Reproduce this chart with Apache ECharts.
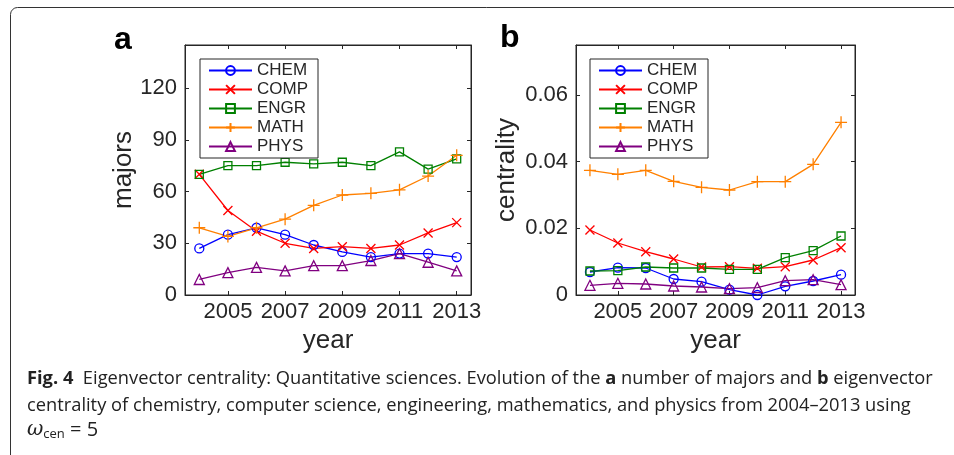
<!DOCTYPE html>
<html>
<head>
<meta charset="utf-8">
<script src="https://cdn.jsdelivr.net/npm/echarts@6/dist/echarts.min.js"></script>
<style>
  html, body { margin: 0; padding: 0; background: #fff; }
  #chart { width: 954px; height: 455px; }
</style>
</head>
<body>
<div id="chart"></div>
<script>
// years shown on the x axis
const years = [2004, 2005, 2006, 2007, 2008, 2009, 2010, 2011, 2012, 2013];
const yearTicks = [2005, 2007, 2009, 2011, 2013];
const fields = ['CHEM', 'COMP', 'ENGR', 'MATH', 'PHYS'];

// panel a: number of majors
const majorsChem = [27, 35, 39, 35, 29, 25, 22, 24, 24, 22];
const majorsComp = [70, 49, 37, 30, 27, 28, 27, 29, 36, 42];
const majorsEngr = [70, 75, 75, 77, 76, 77, 75, 83, 73, 79];
const majorsMath = [39, 34, 39, 44, 52, 58, 59, 61, 69, 81];
const majorsPhys = [9, 13, 16, 14, 17, 17, 20, 24, 19, 14];

// panel b: eigenvector centrality
const centChem = [0.0069, 0.0082, 0.0081, 0.0048, 0.0040, 0.0016, 0.0000, 0.0026, 0.0042, 0.0061];
const centComp = [0.0195, 0.0156, 0.0130, 0.0108, 0.0084, 0.0085, 0.0080, 0.0085, 0.0105, 0.0142];
const centEngr = [0.0072, 0.0073, 0.0084, 0.0081, 0.0081, 0.0077, 0.0077, 0.0112, 0.0133, 0.0177];
const centMath = [0.0374, 0.0362, 0.0374, 0.0341, 0.0323, 0.0315, 0.0340, 0.0340, 0.0392, 0.0518];
const centPhys = [0.0029, 0.0035, 0.0033, 0.0027, 0.0024, 0.0019, 0.0022, 0.0043, 0.0046, 0.0031];

const majorsData = [majorsChem, majorsComp, majorsEngr, majorsMath, majorsPhys];
const centData = [centChem, centComp, centEngr, centMath, centPhys];

const colors = ['#0000ff', '#ff0000', '#008000', '#ff8000', '#800080'];
const symbols = [
  'circle',
  'path://M0,0L10,10M10,0L0,10',
  'rect',
  'path://M5,0L5,10M0,5L10,5',
  'triangle'
];
const symbolSizes = [9, 9, 8, 12, 10];

const FONT = "'Liberation Sans', Arial, Helvetica, sans-serif";
const AXIS_COLOR = '#262626';

const chart = echarts.init(document.getElementById('chart'));

function xAxes(gridIndex) {
  const base = {
    type: 'value',
    gridIndex,
    min: 2003.5,
    max: 2013.5,
    splitLine: { show: false },
    axisLine: { show: true, onZero: false, lineStyle: { color: AXIS_COLOR, width: 1 } },
    axisTick: { show: true, inside: true, length: 4, customValues: yearTicks, lineStyle: { color: AXIS_COLOR } }
  };
  return [
    Object.assign({}, base, {
      position: 'bottom',
      name: 'year',
      nameLocation: 'middle',
      nameGap: 33,
      nameTextStyle: { fontSize: 26, fontFamily: FONT, color: AXIS_COLOR },
      axisLabel: {
        customValues: yearTicks, fontSize: 22, fontFamily: FONT, color: AXIS_COLOR, margin: 6,
        formatter: (v) => String(v)
      }
    }),
    Object.assign({}, base, { position: 'top', axisLabel: { show: false } })
  ];
}

function yAxes(gridIndex, max, interval, name, nameGap, fmt) {
  const base = {
    type: 'value',
    gridIndex,
    min: 0,
    max,
    interval,
    splitLine: { show: false },
    axisLine: { show: true, onZero: false, lineStyle: { color: AXIS_COLOR, width: 1 } },
    axisTick: { show: true, inside: true, length: 4, lineStyle: { color: AXIS_COLOR } }
  };
  return [
    Object.assign({}, base, {
      position: 'left',
      name,
      nameLocation: 'middle',
      nameGap,
      nameTextStyle: { fontSize: 26, fontFamily: FONT, color: AXIS_COLOR },
      axisLabel: {
        fontSize: 22, fontFamily: FONT, color: AXIS_COLOR, margin: 8,
        showMaxLabel: false, formatter: fmt
      }
    }),
    Object.assign({}, base, { position: 'right', axisLabel: { show: false } })
  ];
}

function makeSeries(dataSets, axisIndex) {
  return fields.map((f, i) => ({
    name: f,
    type: 'line',
    xAxisIndex: axisIndex,
    yAxisIndex: axisIndex,
    data: years.map((y, k) => [y, dataSets[i][k]]),
    symbol: symbols[i],
    symbolSize: symbolSizes[i],
    showAllSymbol: true,
    lineStyle: { color: colors[i], width: 1.3 },
    itemStyle: { color: 'rgba(0,0,0,0)', borderColor: colors[i], borderWidth: 1.3 },
    emphasis: { disabled: true },
    animation: false,
    z: 3
  }));
}

function legendAt(left) {
  return {
    left,
    top: 59,
    orient: 'vertical',
    data: fields,
    selectedMode: false,
    backgroundColor: '#fff',
    borderColor: AXIS_COLOR,
    borderWidth: 1,
    padding: [2, 10, 2, 8],
    itemGap: 0,
    itemWidth: 43,
    itemHeight: 11,
    textStyle: { fontSize: 17, fontFamily: FONT, color: AXIS_COLOR, lineHeight: 19 }
  };
}

const capFont = "'Open Sans', 'Noto Sans', sans-serif";
const CAP_SIZE = 18.3;
const capRich = {
  b: { fontWeight: 'bold', fontSize: CAP_SIZE, fontFamily: capFont, fill: '#222' },
  n: { fontSize: CAP_SIZE, fontFamily: capFont, fill: '#222' },
  w: { fontStyle: 'italic', fontSize: 20, fontFamily: "'DejaVu Serif', serif", fill: '#222' },
  s: { fontSize: 13, fontFamily: capFont, fill: '#222', padding: [8, 0, 0, 0] },
  e: { fontSize: 20, fontFamily: capFont, fill: '#222' }
};

function capLine(text, y) {
  return {
    type: 'text',
    left: 27,
    top: y,
    style: { text, rich: capRich, fontSize: CAP_SIZE, fontFamily: capFont, fill: '#222' }
  };
}

chart.setOption({
  animation: false,
  grid: [
    { left: 185, top: 45, width: 286, height: 250, show: true, borderColor: AXIS_COLOR, borderWidth: 1, backgroundColor: 'transparent' },
    { left: 576, top: 45, width: 279, height: 250, show: true, borderColor: AXIS_COLOR, borderWidth: 1, backgroundColor: 'transparent' }
  ],
  xAxis: [...xAxes(0), ...xAxes(1)],
  yAxis: [
    ...yAxes(0, 145, 30, 'majors', 48, (v) => String(v)),
    ...yAxes(1, 0.075, 0.02, 'centrality', 56, (v) => (v === 0 ? '0' : v.toFixed(2)))
  ],
  legend: [legendAt(200), legendAt(590)],
  series: [...makeSeries(majorsData, 0), ...makeSeries(centData, 2)],
  graphic: [
    {
      type: 'rect',
      shape: { x: 10.5, y: 7.5, width: 1100, height: 600, r: 7 },
      style: { fill: 'none', stroke: '#333', lineWidth: 1 },
      silent: true
    },
    { type: 'text', left: 114, top: 24, style: { text: 'a', fontSize: 32, fontWeight: 'bold', fontFamily: FONT, fill: '#000' } },
    { type: 'text', left: 500, top: 22, style: { text: 'b', fontSize: 32, fontWeight: 'bold', fontFamily: FONT, fill: '#000' } },
    capLine('{b|Fig. 4}{n|  Eigenvector centrality: Quantitative sciences. Evolution of the }{b|a}{n| number of majors and }{b|b}{n| eigenvector}', 370),
    capLine('{n|centrality of chemistry, computer science, engineering, mathematics, and physics from 2004\u20132013 using}', 397),
    capLine('{w|\u03c9}{s|cen}{e| = 5}', 420)
  ]
});
</script>
</body>
</html>
